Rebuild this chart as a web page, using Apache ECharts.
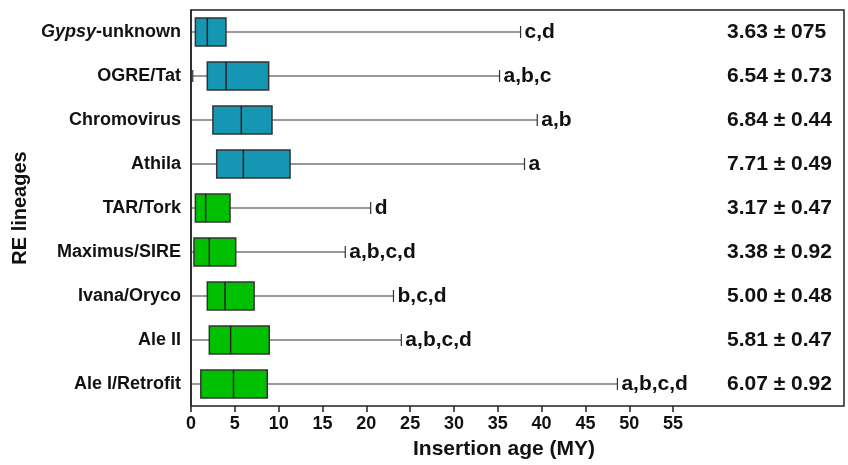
<!DOCTYPE html>
<html>
<head>
<meta charset="utf-8">
<script src="https://cdn.jsdelivr.net/npm/echarts@6/dist/echarts.min.js"></script>
<style>
  html, body { margin: 0; padding: 0; background: #fff; }
  #main { width: 848px; height: 465px; }
</style>
</head>
<body>
<div id="main"></div>
<script>
// RE lineages, top to bottom
var lineages = ['Gypsy-unknown', 'OGRE/Tat', 'Chromovirus', 'Athila', 'TAR/Tork',
  'Maximus/SIRE', 'Ivana/Oryco', 'Ale II', 'Ale I/Retrofit'];
var superfamily = ['Gypsy', 'Gypsy', 'Gypsy', 'Gypsy', 'Copia', 'Copia', 'Copia', 'Copia', 'Copia'];

// insertion age (MY): whisker min, Q1, median, Q3, whisker max
var ageMin = [0, 0.2, 0, 0, 0, 0, 0, 0, 0];
var ageQ1 = [0.5, 1.86, 2.5, 2.93, 0.5, 0.34, 1.86, 2.09, 1.12];
var ageMedian = [1.86, 4.0, 5.74, 5.97, 1.67, 2.09, 3.88, 4.52, 4.85];
var ageQ3 = [3.99, 8.86, 9.24, 11.3, 4.45, 5.1, 7.2, 8.93, 8.7];
var ageMax = [37.6, 35.2, 39.5, 38.05, 20.5, 17.6, 23.1, 24.0, 48.65];

// significance letters and mean + SE as printed
var letters = ['c,d', 'a,b,c', 'a,b', 'a', 'd', 'a,b,c,d', 'b,c,d', 'a,b,c,d', 'a,b,c,d'];
var meanAge = ['3.63', '6.54', '6.84', '7.71', '3.17', '3.38', '5.00', '5.81', '6.07'];
var stdErr = ['075', '0.73', '0.44', '0.49', '0.47', '0.92', '0.48', '0.47', '0.92'];

var xTicks = [0, 5, 10, 15, 20, 25, 30, 35, 40, 45, 50, 55];

var colors = { Gypsy: '#1597b3', Copia: '#00c000' };
var font = 'Arial, "Liberation Sans", sans-serif';

var boxData = lineages.map(function (name, i) {
  return [i, ageMin[i], ageQ1[i], ageMedian[i], ageQ3[i], ageMax[i]];
});
var letterData = lineages.map(function (name, i) {
  return [ageMax[i], i];
});
var rightLabels = lineages.map(function (name, i) {
  return meanAge[i] + ' \u00b1 ' + stdErr[i];
});

var chart = echarts.init(document.getElementById('main'));

chart.setOption({
  animation: false,
  grid: {
    left: 191, top: 10, right: 4, bottom: 55,
    show: true, borderColor: '#222', borderWidth: 1.5
  },
  xAxis: {
    type: 'value',
    min: 0,
    max: 74.5,
    name: 'Insertion age (MY)',
    nameLocation: 'middle',
    nameGap: 33,
    nameTextStyle: {
      fontFamily: font, fontWeight: 'bold', fontSize: 21, color: '#111',
      padding: [0, 27, 0, 0]
    },
    splitLine: { show: false },
    axisLine: { lineStyle: { color: '#222', width: 1.5 } },
    axisTick: { show: true, length: 6, customValues: xTicks, lineStyle: { color: '#222', width: 1.5 } },
    axisLabel: {
      customValues: xTicks, margin: 9,
      fontFamily: font, fontWeight: 'bold', fontSize: 18, color: '#111'
    }
  },
  yAxis: [{
    type: 'category',
    data: lineages,
    inverse: true,
    name: 'RE lineages',
    nameLocation: 'middle',
    nameGap: 160,
    nameRotate: 90,
    nameTextStyle: { fontFamily: font, fontWeight: 'bold', fontSize: 20, color: '#111' },
    axisLine: { lineStyle: { color: '#222', width: 1.5 } },
    axisTick: { alignWithLabel: true, length: 5, lineStyle: { color: '#222', width: 1.5 } },
    axisLabel: {
      margin: 10,
      fontFamily: font, fontWeight: 'bold', fontSize: 18, color: '#111',
      formatter: function (v) {
        if (v === 'Gypsy-unknown') return '{i|Gypsy}-unknown';
        return v;
      },
      rich: {
        i: { fontFamily: font, fontWeight: 'bold', fontStyle: 'italic', fontSize: 18, color: '#111' }
      }
    }
  }, {
    type: 'category',
    data: rightLabels,
    inverse: true,
    position: 'right',
    axisLine: { show: false },
    axisTick: { show: false },
    axisLabel: {
      inside: true, margin: 117, align: 'left',
      fontFamily: font, fontWeight: 'bold', fontSize: 21, color: '#111'
    }
  }],
  series: [{
    type: 'custom',
    data: boxData,
    encode: { x: [1, 2, 3, 4, 5], y: 0 },
    renderItem: function (params, api) {
      var idx = api.value(0);
      var pMin = api.coord([api.value(1), idx]);
      var pQ1 = api.coord([api.value(2), idx]);
      var pMed = api.coord([api.value(3), idx]);
      var pQ3 = api.coord([api.value(4), idx]);
      var pMax = api.coord([api.value(5), idx]);
      var band = api.size([0, 1])[1];
      var half = band * 0.32;
      var cap = 6;
      var y = pMed[1];
      var line = { stroke: '#333', lineWidth: 1.2 };
      var fill = colors[superfamily[params.dataIndex]];
      return {
        type: 'group',
        children: [
          { type: 'line', shape: { x1: pMin[0], y1: y, x2: pMax[0], y2: y }, style: line },
          { type: 'line', shape: { x1: pMin[0], y1: y - cap, x2: pMin[0], y2: y + cap }, style: line },
          { type: 'line', shape: { x1: pMax[0], y1: y - cap, x2: pMax[0], y2: y + cap }, style: line },
          {
            type: 'rect',
            shape: { x: pQ1[0], y: y - half, width: pQ3[0] - pQ1[0], height: half * 2 },
            style: { fill: fill, stroke: '#333', lineWidth: 1.5 }
          },
          { type: 'line', shape: { x1: pMed[0], y1: y - half, x2: pMed[0], y2: y + half }, style: { stroke: '#222', lineWidth: 1.5 } }
        ]
      };
    }
  }, {
    type: 'scatter',
    data: letterData,
    symbolSize: 0,
    silent: true,
    itemStyle: { opacity: 1 },
    label: {
      show: true,
      position: 'right',
      distance: 4,
      fontFamily: font, fontWeight: 'bold', fontSize: 21, color: '#111',
      formatter: function (p) { return letters[p.dataIndex]; }
    }
  }]
});
</script>
</body>
</html>
